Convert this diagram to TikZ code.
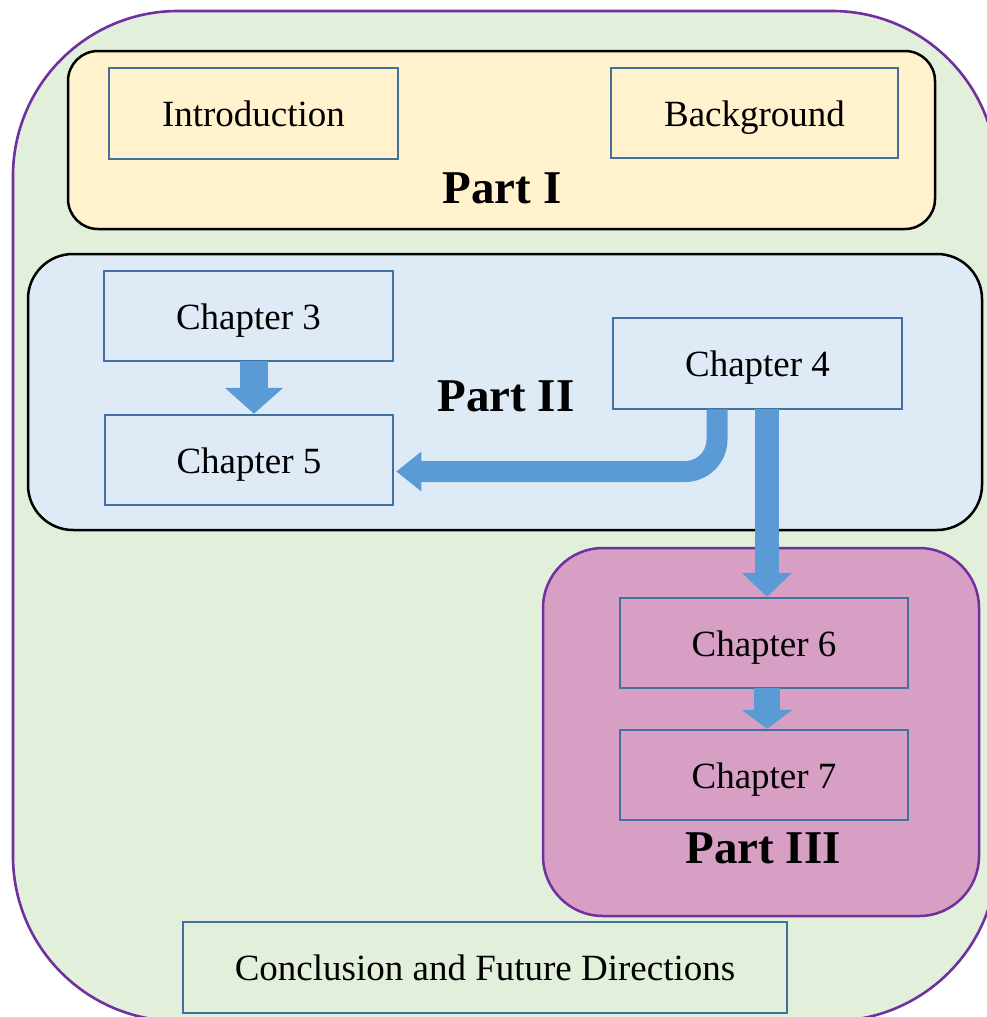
\documentclass[tikz,border=0pt]{standalone}
\usepackage{fontspec}
\setmainfont{Liberation Serif}
\usetikzlibrary{arrows.meta,calc}

\definecolor{outerfill}{HTML}{E2EFDA}
\definecolor{purpleline}{HTML}{7030A0}
\definecolor{partonefill}{HTML}{FFF2CC}
\definecolor{parttwofill}{HTML}{DEEBF7}
\definecolor{partthreefill}{HTML}{D79FC3}
\definecolor{boxblue}{HTML}{41719C}
\definecolor{arrowblue}{HTML}{5B9BD5}

\tikzset{
  chapbox/.style={draw=boxblue, line width=2.5pt, inner sep=0pt,
    text height=36pt, text depth=10pt,
    font=\fontsize{37}{40}\selectfont},
  partlabel/.style={inner sep=0pt, font=\fontsize{47}{50}\selectfont\bfseries},
  container/.style={line width=2.5pt},
  blockarrow/.style={draw=arrowblue, line cap=butt}
}

\begin{document}
\begin{tikzpicture}[x=1pt,y=-1pt]
  \useasboundingbox (0,0) rectangle (987,1017);
  \begin{scope}
    \clip (0,0) rectangle (987,1017);
    % outer frame
    \draw[fill=outerfill, draw=purpleline, line width=2.6pt, rounded corners=165pt]
      (13,11) rectangle (997,1021);
  \end{scope}

  % part containers
  \draw[container, fill=partonefill, draw=black, rounded corners=30pt]
    (68,51) rectangle (935,229);
  \draw[container, fill=parttwofill, draw=black, rounded corners=45pt]
    (28,254) rectangle (982,530);
  \draw[container, fill=partthreefill, draw=purpleline, rounded corners=60pt]
    (543,548) rectangle (979,916);

  % chapter boxes
  \node[chapbox, minimum width=289pt, minimum height=91pt] (intro) at (253.5,113.5) {Introduction};
  \node[chapbox, minimum width=287pt, minimum height=90pt] (back) at (754.5,113) {Background};
  \node[chapbox, minimum width=289pt, minimum height=90pt] (ch3) at (248.5,316) {Chapter 3};
  \node[chapbox, minimum width=288pt, minimum height=90pt] (ch5) at (249,460) {Chapter 5};
  \node[chapbox, minimum width=289pt, minimum height=91pt] (ch4) at (757.5,363.5) {Chapter 4};
  \node[chapbox, minimum width=288pt, minimum height=90pt] (ch6) at (764,643) {Chapter 6};
  \node[chapbox, minimum width=288pt, minimum height=90pt] (ch7) at (764,775) {Chapter 7};
  \node[chapbox, minimum width=604pt, minimum height=91pt] (concl) at (485,967.5) {Conclusion and Future Directions};

  % part labels
  \node[partlabel] (p1) at (502,188) {Part I};
  \node[partlabel] (p2) at (506,396) {Part II};
  \node[partlabel] (p3) at (763,848) {Part III};

  % block arrows
  \draw[blockarrow, line width=28pt, -{Triangle[width=57pt,length=26pt]}]
    ($(ch3.south)+(5.5,-1)$) -- ($(ch5.north)+(5,0)$);
  \draw[blockarrow, line width=21pt, rounded corners=32pt, -{Triangle[width=38pt,length=25pt]}]
    ($(ch4.south)+(-40.5,-1)$) |- ($(ch5.east)+(2,11.5)$);
  \draw[blockarrow, line width=24pt, -{Triangle[width=49pt,length=24pt]}]
    ($(ch4.south)+(9.5,-1)$) -- ($(ch6.north)+(3,0)$);
  \draw[blockarrow, line width=26pt, -{Triangle[width=50pt,length=19pt]}]
    ($(ch6.south)+(3,-1)$) -- ($(ch7.north)+(3,0)$);
\end{tikzpicture}
\end{document}
